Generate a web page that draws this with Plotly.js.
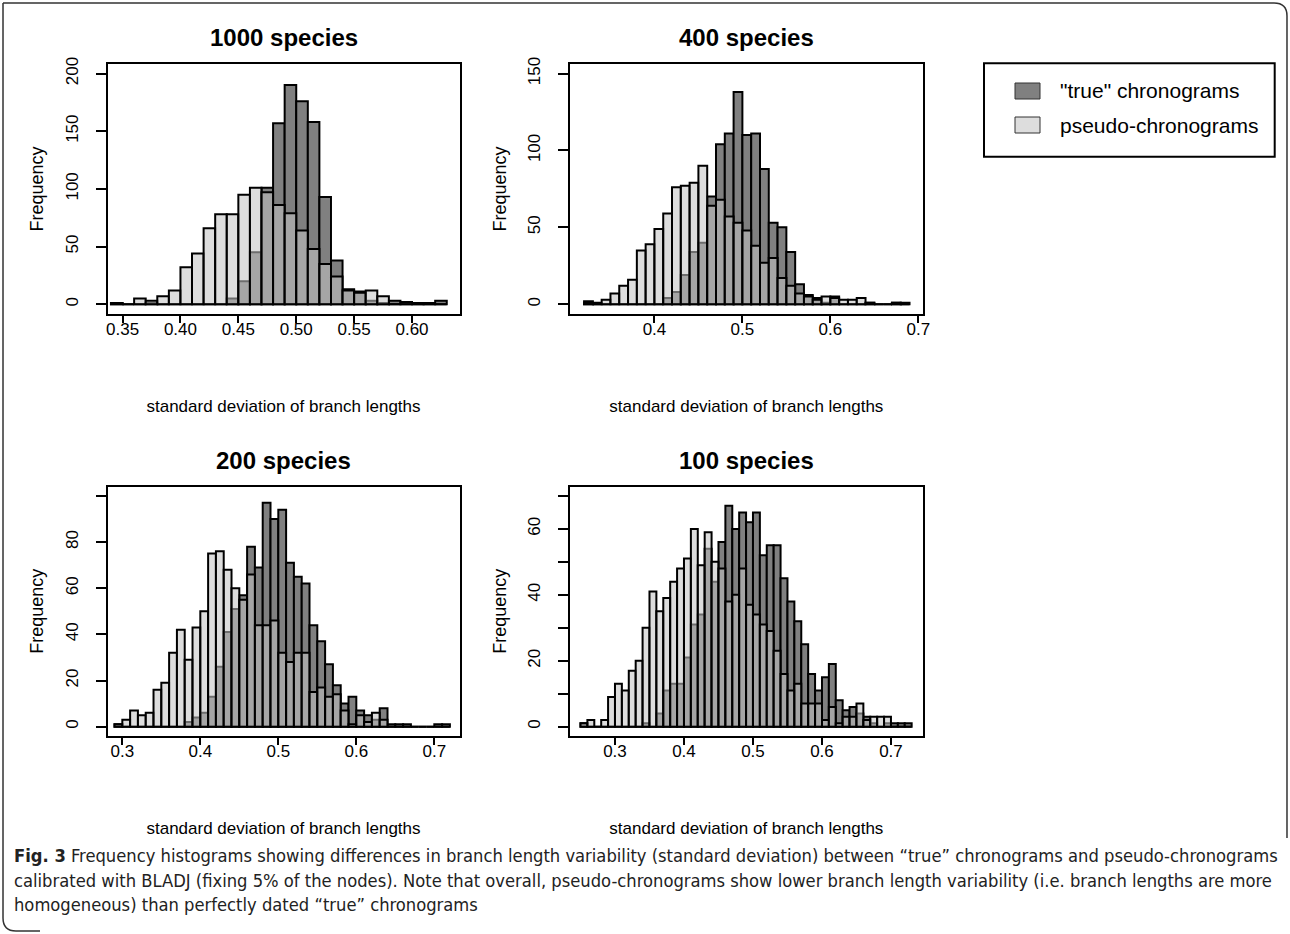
<!DOCTYPE html>
<html>
<head>
<meta charset="utf-8">
<script src="https://cdn.plot.ly/plotly-3.0.1.min.js"></script>
<style>
  html, body { margin: 0; padding: 0; background: #fff; }
  #chart { width: 1290px; height: 934px; }
</style>
</head>
<body>
<div id="chart"></div>
<script>
// ---------------- DATA ----------------
const binWidth = 0.01;

// 1000 species (bins start at 0.34)
const start1000 = 0.34;
const true1000   = [1,0,0,1,0,0,0,0,0,0,5,20,45,101,157,190,176,158,93,38,13,11,3,1,3,2,1,1,3];
const pseudo1000 = [1,0,5,3,7,12,32,44,66,78,78,95,101,97,86,79,64,48,35,24,12,10,12,7,0,0,0,0,0];

// 400 species (bins start at 0.32)
const start400 = 0.32;
const true400   = [2,0,0,0,0,0,0,0,0,4,8,19,34,40,70,104,111,138,110,111,88,53,50,34,13,6,4,1,5,0,0,0,1,0,0,1,1];
const pseudo400 = [1,1,3,7,12,16,35,39,49,59,76,77,79,90,64,68,57,53,48,38,27,30,17,12,7,5,3,5,4,3,3,4,1,0,0,1,0];

// 200 species (bins start at 0.29)
const start200 = 0.29;
const true200   = [1,0,0,0,0,0,0,0,0,2,4,6,13,26,41,51,57,78,69,97,90,94,71,65,62,44,37,27,18,10,13,7,5,3,8,1,1,1,0,0,0,1,1];
const pseudo200 = [1,3,7,5,6,16,19,32,42,29,43,50,75,76,68,60,55,66,44,44,46,32,28,32,32,15,17,13,14,7,1,5,2,6,3,0,0,0,0,0,0,0,0];

// 100 species (bins start at 0.25)
const start100 = 0.25;
const true100   = [1,0,0,0,0,0,0,0,0,1,0,4,11,13,13,21,31,34,54,44,56,67,60,65,62,65,52,55,55,45,38,32,25,16,11,15,19,8,5,6,4,3,1,0,1,1,1,1];
const pseudo100 = [1,2,0,2,9,13,11,17,20,30,41,35,39,44,48,51,60,49,59,50,48,38,40,48,37,34,31,29,23,16,11,13,7,7,7,2,6,1,3,3,7,2,3,3,3,0,0,0];

const panelTitles = ["1000 species", "400 species", "200 species", "100 species"];
const seriesNames = ['"true" chronograms', 'pseudo-chronograms'];

const xTicks1000 = [0.35,0.40,0.45,0.50,0.55,0.60], xText1000 = ["0.35","0.40","0.45","0.50","0.55","0.60"];
const xTicks400 = [0.4,0.5,0.6,0.7], xText400 = ["0.4","0.5","0.6","0.7"];
const xTicks200 = [0.3,0.4,0.5,0.6,0.7], xText200 = ["0.3","0.4","0.5","0.6","0.7"];
const xTicks100 = [0.3,0.4,0.5,0.6,0.7], xText100 = ["0.3","0.4","0.5","0.6","0.7"];
const yTicks1000 = [0,50,100,150,200], yText1000 = ["0","50","100","150","200"];
const yTicks400 = [0,50,100,150], yText400 = ["0","50","100","150"];
const yTicks200 = [0,20,40,60,80,100], yText200 = ["0","20","40","60","80",""];
const yTicks100 = [0,10,20,30,40,50,60,70], yText100 = ["0","","20","","40","","60",""];

const xAxisTitle = "standard deviation of branch lengths";
const yAxisTitle = "Frequency";
const captionLines = [
  "<b>Fig. 3</b> Frequency histograms showing differences in branch length variability (standard deviation) between \u201ctrue\u201d chronograms and pseudo-chronograms",
  "calibrated with BLADJ (fixing 5% of the nodes). Note that overall, pseudo-chronograms show lower branch length variability (i.e. branch lengths are more",
  "homogeneous) than perfectly dated \u201ctrue\u201d chronograms"
];

// ---------------- STYLE ----------------
const W = 1290, H = 934;
const TRUE_FILL = 'rgb(128,128,128)';
const PSEUDO_FILL = 'rgba(194,194,194,0.56)';
const FONT = '"Liberation Sans", Arial, Helvetica, sans-serif';
const px = x => x / W;
const py = y => 1 - y / H;

function barTrace(start, counts, fill, name, ax) {
  return {
    type: 'bar', name: name, x0: start, dx: binWidth, y: counts,
    offset: 0, width: binWidth,
    marker: { color: fill, line: { color: '#000', width: 2 } },
    xaxis: 'x' + ax, yaxis: 'y' + ax, showlegend: false, hoverinfo: 'x+y'
  };
}

const data = [
  barTrace(start1000, true1000, TRUE_FILL, seriesNames[0], ''),
  barTrace(start1000, pseudo1000, PSEUDO_FILL, seriesNames[1], ''),
  barTrace(start400, true400, TRUE_FILL, seriesNames[0], '2'),
  barTrace(start400, pseudo400, PSEUDO_FILL, seriesNames[1], '2'),
  barTrace(start200, true200, TRUE_FILL, seriesNames[0], '3'),
  barTrace(start200, pseudo200, PSEUDO_FILL, seriesNames[1], '3'),
  barTrace(start100, true100, TRUE_FILL, seriesNames[0], '4'),
  barTrace(start100, pseudo100, PSEUDO_FILL, seriesNames[1], '4')
];

function xAxis(domain, range, tv, tt, anchor) {
  return {
    domain: domain, range: range, anchor: anchor,
    tickvals: tv, ticktext: tt, ticks: 'outside', ticklen: 7, tickwidth: 2, tickcolor: '#000',
    showline: true, linewidth: 2, linecolor: '#000', mirror: true,
    showgrid: false, zeroline: false, ticklabelstandoff: -8,
    tickfont: { size: 17, color: '#000', family: FONT },
    title: { text: xAxisTitle, font: { size: 17, color: '#000', family: FONT }, standoff: 62 }
  };
}
function yAxis(domain, range, tv, tt, anchor) {
  return {
    domain: domain, range: range, anchor: anchor,
    tickvals: tv, ticktext: tt, ticks: 'outside', ticklen: 10, tickwidth: 2, tickcolor: '#000',
    tickangle: -90,
    showline: true, linewidth: 2, linecolor: '#000', mirror: true,
    showgrid: false, zeroline: false, ticklabelstandoff: 11,
    tickfont: { size: 17, color: '#000', family: FONT },
    title: { text: yAxisTitle, font: { size: 18, color: '#000', family: FONT }, standoff: 14 }
  };
}

const xL = [px(107.5), px(459.5)], xR = [px(570), px(922.7)];
const yT = [py(313.5), py(64.3)], yB = [py(735.9), py(486.7)];

const annotations = [];
const titlePos = [[283.5, 38], [746, 38], [283.5, 461], [746, 461]];
panelTitles.forEach((t, i) => {
  annotations.push({ text: '<b>' + t + '</b>', xref: 'paper', yref: 'paper',
    x: px(titlePos[i][0]), y: py(titlePos[i][1]), xanchor: 'center', yanchor: 'middle',
    showarrow: false, font: { size: 24, color: '#000', family: FONT } });
});
// legend texts
annotations.push({ text: seriesNames[0], xref: 'paper', yref: 'paper', x: px(1058), y: py(91),
  xanchor: 'left', yanchor: 'middle', showarrow: false, font: { size: 21, color: '#000', family: FONT } });
annotations.push({ text: seriesNames[1], xref: 'paper', yref: 'paper', x: px(1058), y: py(125),
  xanchor: 'left', yanchor: 'middle', showarrow: false, font: { size: 21, color: '#000', family: FONT } });
// caption
const capY = [855, 880, 904];
const CAPFONT = '"DejaVu Sans Condensed", "DejaVu Sans", sans-serif';
captionLines.forEach((c, i) => {
  annotations.push({ text: c, xref: 'paper', yref: 'paper', x: px(12), y: py(capY[i]),
    xanchor: 'left', yanchor: 'middle', showarrow: false,
    font: { size: 18.2, color: '#222', family: CAPFONT } });
});

function p(x, y) { return px(x).toFixed(5) + ',' + py(y).toFixed(5); }
const shapes = [
  // legend box
  { type: 'rect', xref: 'paper', yref: 'paper', x0: px(984), x1: px(1274.7), y0: py(63.3), y1: py(156.7),
    line: { color: '#000', width: 2 }, fillcolor: 'rgba(0,0,0,0)' },
  { type: 'rect', xref: 'paper', yref: 'paper', x0: px(1015), x1: px(1040), y0: py(83), y1: py(99),
    line: { color: '#333', width: 1 }, fillcolor: TRUE_FILL },
  { type: 'rect', xref: 'paper', yref: 'paper', x0: px(1015), x1: px(1040), y0: py(117), y1: py(133),
    line: { color: '#333', width: 1 }, fillcolor: 'rgb(221,221,221)' },
  // page frame: top + top-right corner + right side
  { type: 'path', xref: 'paper', yref: 'paper',
    path: 'M ' + p(3, 3) + ' L ' + p(1274, 3) + ' Q ' + p(1287, 3) + ' ' + p(1287, 16) + ' L ' + p(1287, 838),
    line: { color: '#333', width: 1.5 } },
  // left side + bottom-left corner
  { type: 'path', xref: 'paper', yref: 'paper',
    path: 'M ' + p(3, 3) + ' L ' + p(3, 918) + ' Q ' + p(3, 931) + ' ' + p(16, 931) + ' L ' + p(40, 931),
    line: { color: '#333', width: 1.5 } }
];

const layout = {
  width: W, height: H, margin: { l: 0, r: 0, t: 0, b: 0 },
  paper_bgcolor: '#fff', plot_bgcolor: '#fff',
  font: { family: FONT, color: '#000' },
  barmode: 'overlay', bargap: 0, showlegend: false,
  xaxis: xAxis(xL, [0.337, 0.641], xTicks1000, xText1000, 'y'),
  yaxis: yAxis(yT, [-8, 208], yTicks1000, yText1000, 'x'),
  xaxis2: xAxis(xR, [0.304, 0.705], xTicks400, xText400, 'y2'),
  yaxis2: yAxis(yT, [-6, 156], yTicks400, yText400, 'x2'),
  xaxis3: xAxis(xL, [0.281, 0.7323], xTicks200, xText200, 'y3'),
  yaxis3: yAxis(yB, [-4, 104], yTicks200, yText200, 'x3'),
  xaxis4: xAxis(xR, [0.2348, 0.746], xTicks100, xText100, 'y4'),
  yaxis4: yAxis(yB, [-2.8, 72.8], yTicks100, yText100, 'x4'),
  annotations: annotations, shapes: shapes
};

Plotly.newPlot('chart', data, layout, { displayModeBar: false, staticPlot: true });
</script>
</body>
</html>
